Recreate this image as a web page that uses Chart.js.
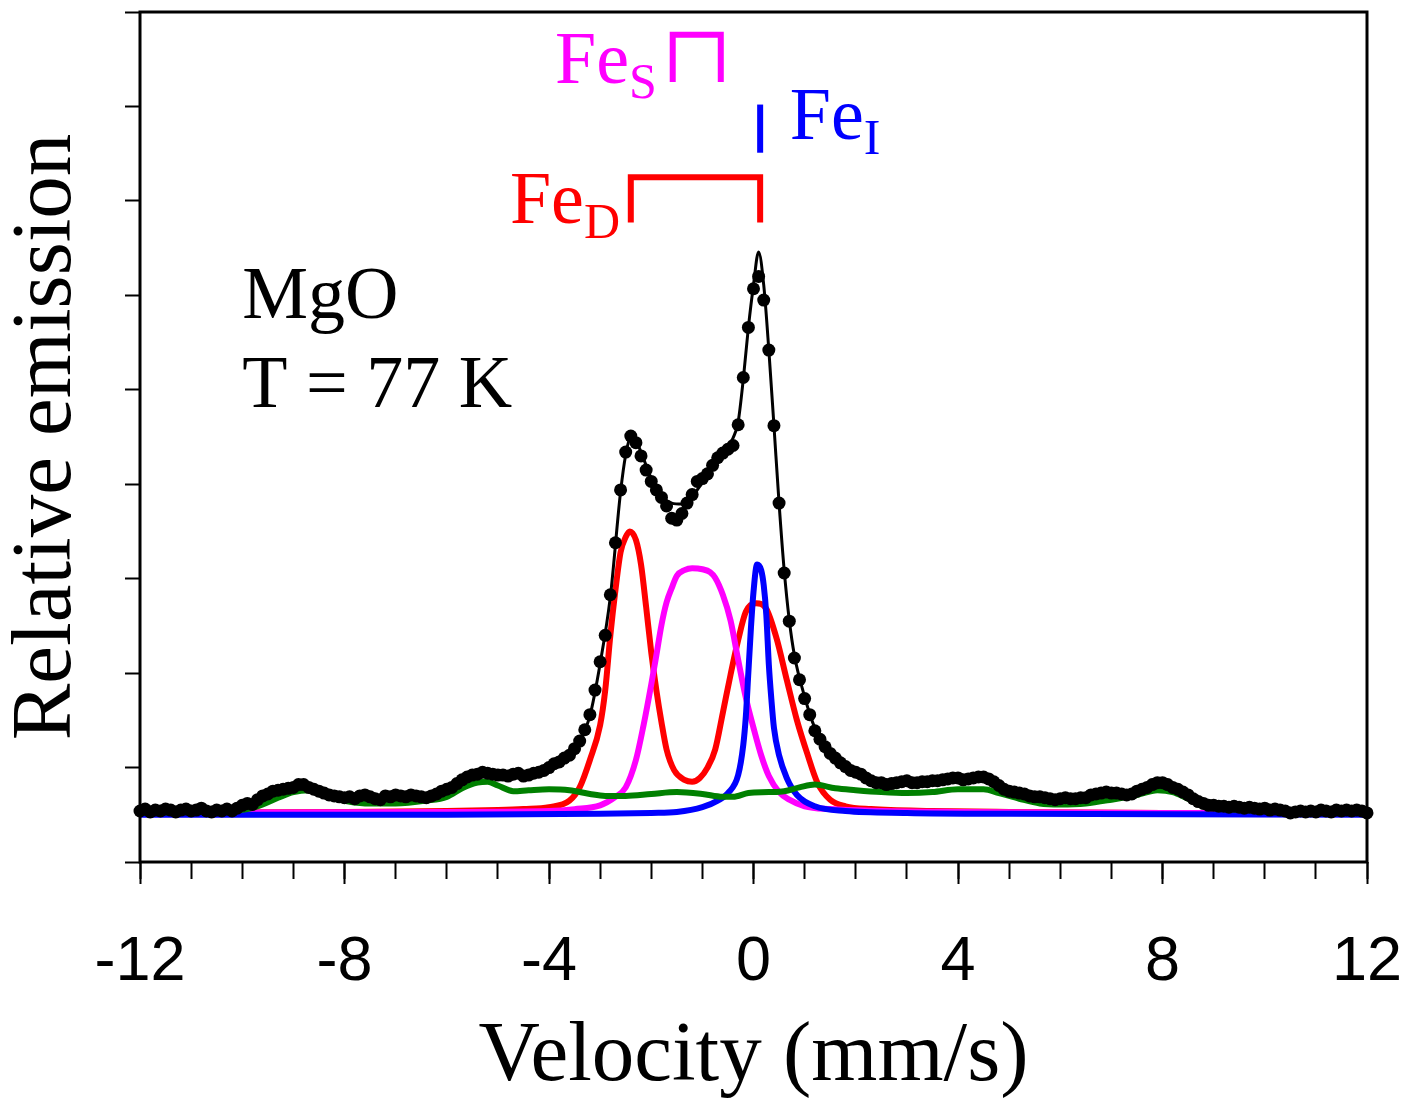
<!DOCTYPE html>
<html>
<head>
<meta charset="utf-8">
<script src="https://cdn.jsdelivr.net/npm/chart.js@4.4.1/dist/chart.umd.min.js"></script>
<style>
    html, body { margin: 0; padding: 0; background: #fff; }
</style>
</head>
<body>
<canvas id="graphique_mossbauer" width="1407" height="1101"></canvas>
<script>
// canaux de vitesse : -12 a 12 mm/s, tous les 0.1 mm/s
const v_debut = -12;
const v_pas = 0.1;
const emission_mesure = [
    0.54, 0.56, 0.53, 0.55, 0.54, 0.56, 0.55, 0.53, 0.55, 0.56, 0.54, 0.55, 0.57, 0.54, 0.53, 0.55, 0.54, 0.56, 0.54,
    0.57, 0.60, 0.62, 0.61, 0.66, 0.70, 0.72, 0.75, 0.76, 0.77, 0.78, 0.79, 0.82, 0.82, 0.79, 0.77, 0.75, 0.73, 0.71, 0.70,
    0.69, 0.68, 0.69, 0.67, 0.70, 0.71, 0.69, 0.67, 0.66, 0.70,
    0.69, 0.71, 0.70, 0.69, 0.71, 0.70, 0.69, 0.68, 0.70, 0.72, 0.75, 0.77,
    0.79, 0.83, 0.87, 0.90, 0.92, 0.93, 0.95, 0.94, 0.93, 0.92, 0.92, 0.91, 0.93, 0.94, 0.91, 0.92, 0.94, 0.95, 0.97, 1.00,
    1.04, 1.06, 1.10, 1.13, 1.20, 1.28, 1.40, 1.56, 1.82, 2.12, 2.40, 2.83, 3.38, 3.94, 4.34, 4.51, 4.44, 4.30, 4.15, 4.03,
    3.94, 3.86, 3.77, 3.64, 3.62, 3.69, 3.80, 3.89, 4.03, 4.06, 4.11, 4.20, 4.28, 4.33, 4.37, 4.41,
    4.63, 5.13, 5.66, 6.07, 6.20, 5.95, 5.42, 4.62, 3.80, 3.06, 2.55, 2.16, 1.93, 1.73, 1.56, 1.39, 1.30, 1.22, 1.15, 1.10, 1.05, 1.01,
    0.97, 0.95, 0.93, 0.89, 0.86, 0.84, 0.84, 0.82, 0.83, 0.84, 0.85, 0.86, 0.84, 0.84, 0.85, 0.85, 0.86, 0.86, 0.87, 0.88,
    0.89, 0.89, 0.87, 0.88, 0.89, 0.90, 0.90, 0.88, 0.85, 0.81, 0.77, 0.75, 0.74, 0.73, 0.72, 0.70, 0.69, 0.69, 0.68, 0.67,
    0.66, 0.67, 0.68, 0.67, 0.67, 0.68, 0.68,
    0.71, 0.72, 0.73, 0.74, 0.73, 0.73, 0.72, 0.71, 0.72, 0.75, 0.77, 0.79, 0.82, 0.84, 0.84, 0.82, 0.79, 0.77, 0.74, 0.71,
    0.67, 0.64, 0.62, 0.60, 0.60, 0.59, 0.59, 0.58, 0.59, 0.58, 0.57, 0.58, 0.57, 0.56, 0.57, 0.55, 0.56, 0.55, 0.54, 0.52,
    0.53, 0.54, 0.53, 0.54, 0.53, 0.55, 0.54, 0.53, 0.55, 0.54, 0.55, 0.54, 0.55, 0.54, 0.52
];

// ajustement total
const v_ajust = [-12, -11, -10, -9.5, -9, -8.5, -8, -7, -6.5, -6, -5.5, -5, -4.5, -4, -3.5, -3.2, -3.0, -2.8, -2.6, -2.5,
    -2.4, -2.3, -2.2, -2.0, -1.8, -1.6, -1.4, -1.3, -1.1, -0.9, -0.7, -0.5, -0.4, -0.3, -0.2, -0.1, 0.0, 0.1, 0.2, 0.3,
    0.4, 0.5, 0.6, 0.7, 0.8, 1.0, 1.2, 1.5, 2.0, 2.5, 3, 3.5, 4, 4.5, 5, 5.5, 6, 7, 7.5, 8, 8.5, 9, 10, 11, 12];
const emission_ajust = [0.54, 0.55, 0.58, 0.71, 0.79, 0.75, 0.69, 0.69, 0.69, 0.76, 0.90, 0.92, 0.92, 1.00, 1.19, 1.55, 2.10, 2.81, 3.92, 4.31,
    4.49, 4.46, 4.34, 4.06, 3.87, 3.80, 3.79, 3.79, 3.94, 4.10, 4.25, 4.39, 4.49, 4.66, 5.11, 5.66, 6.11, 6.46, 6.11, 5.42,
    4.62, 3.80, 3.09, 2.56, 2.19, 1.75, 1.42, 1.17, 0.96, 0.86, 0.84, 0.85, 0.87, 0.88, 0.76, 0.70, 0.67, 0.71, 0.75, 0.82, 0.71, 0.60, 0.57, 0.55, 0.54];

// Fe_D (doublet)
const v_fe_d = [-12, -8, -6, -5, -4.5, -4, -3.6, -3.4, -3.2, -3.0, -2.9, -2.8, -2.7, -2.6, -2.5, -2.42, -2.3, -2.2, -2.1, -2.0,
    -1.9, -1.8, -1.7, -1.55, -1.35, -1.2, -1.05, -0.9, -0.75, -0.6, -0.45, -0.3, -0.15, 0.05, 0.25, 0.45, 0.65, 0.85, 1.05, 1.25,
    1.5, 1.8, 2.3, 3.5, 5, 8, 12];
const emission_fe_d = [0.52, 0.53, 0.54, 0.55, 0.56, 0.58, 0.65, 0.79, 1.08, 1.45, 1.82, 2.40, 2.88, 3.28, 3.44, 3.50, 3.41, 3.15, 2.70, 2.22,
    1.82, 1.48, 1.19, 0.97, 0.87, 0.85, 0.89, 1.00, 1.19, 1.58, 1.98, 2.35, 2.65, 2.74, 2.68, 2.37, 1.93, 1.50, 1.15, 0.84,
    0.66, 0.59, 0.56, 0.54, 0.53, 0.52, 0.52];

// Fe_S
const v_fe_s = [-12, -6, -4, -3.5, -3.0, -2.7, -2.5, -2.3, -2.15, -2.0, -1.9, -1.8, -1.7, -1.6, -1.5, -1.35, -1.2, -1.0, -0.85, -0.75,
    -0.6, -0.45, -0.3, -0.15, 0.0, 0.15, 0.3, 0.5, 0.7, 1.0, 1.5, 2.5, 4, 8, 12];
const emission_fe_s = [0.52, 0.53, 0.54, 0.56, 0.60, 0.69, 0.79, 1.08, 1.45, 1.88, 2.19, 2.51, 2.75, 2.90, 3.03, 3.09, 3.11, 3.10, 3.07, 3.01,
    2.83, 2.56, 2.14, 1.74, 1.42, 1.13, 0.91, 0.74, 0.66, 0.59, 0.56, 0.54, 0.53, 0.52, 0.52];

// Fe_I
const v_fe_i = [-12, -6, -3, -2, -1.5, -1.0, -0.7, -0.5, -0.3, -0.2, -0.15, -0.1, -0.05, 0.0, 0.07, 0.15, 0.2, 0.25, 0.3, 0.35,
    0.4, 0.5, 0.65, 0.85, 1.2, 1.8, 3, 5, 12];
const emission_fe_i = [0.50, 0.50, 0.51, 0.52, 0.53, 0.58, 0.65, 0.73, 0.92, 1.24, 1.54, 2.01, 2.48, 2.86, 3.15, 3.09, 2.93, 2.62, 2.09, 1.72,
    1.42, 1.13, 0.89, 0.71, 0.59, 0.54, 0.52, 0.51, 0.50];

// composante large (vert)
const v_large = [-12, -11, -10.3, -9.9, -9.6, -9.3, -9.0, -8.7, -8.4, -8.1, -7.6, -7.0, -6.4, -6.0, -5.7, -5.4, -5.2, -5.0, -4.7, -4.4,
    -4.0, -3.6, -3.2, -2.9, -2.5, -2.0, -1.5, -1.0, -0.6, -0.4, -0.1, 0.3, 0.6, 0.9, 1.2, 1.6, 2.0, 2.5, 3.0, 3.5,
    4.0, 4.5, 4.8, 5.2, 5.6, 6.0, 6.5, 7.0, 7.5, 7.9, 8.2, 8.5, 8.8, 9.3, 10, 11, 12];
const emission_large = [0.52, 0.53, 0.54, 0.56, 0.61, 0.68, 0.74, 0.76, 0.71, 0.66, 0.62, 0.62, 0.65, 0.69, 0.78, 0.84, 0.85, 0.81, 0.75, 0.76,
    0.77, 0.76, 0.72, 0.70, 0.70, 0.72, 0.74, 0.72, 0.69, 0.69, 0.73, 0.74, 0.75, 0.79, 0.82, 0.78, 0.76, 0.74, 0.73, 0.74,
    0.77, 0.77, 0.73, 0.67, 0.62, 0.61, 0.62, 0.66, 0.71, 0.76, 0.74, 0.67, 0.60, 0.56, 0.54, 0.53, 0.52];

// reperes des sites : [x, y] en mm/s et en emission relative
const crochet_fe_d = [[-2.40, 6.77], [-2.40, 7.25], [0.13, 7.25], [0.13, 6.77]];
const crochet_fe_s = [[-1.58, 8.26], [-1.58, 8.76], [-0.64, 8.76], [-0.64, 8.26]];
const trait_fe_i = [[0.13, 7.51], [0.13, 8.02]];

const etiquettes = [
    { texte: 'Fe', indice: 'D', couleur: '#ff0000', x: -2.61, y: 6.77, align: 'right' },
    { texte: 'Fe', indice: 'S', couleur: '#ff00ff', x: -1.89, y: 8.25, align: 'right' },
    { texte: 'Fe', indice: 'I', couleur: '#0000ff', x: 0.71, y: 7.66, align: 'left' }
];
const notes = [
    { texte: 'MgO', x: -10.0, y: 5.76 },
    { texte: 'T = 77 K', x: -10.0, y: 4.82 }
];

function enPoints(vx, vy) {
    return vx.map((v, i) => ({ x: v, y: vy[i] }));
}

const points_mesure = emission_mesure.map((e, i) => ({ x: +(v_debut + i * v_pas).toFixed(1), y: e }));

function courbe(label, couleur, vx, vy, ordre) {
    return {
        label: label,
        data: enPoints(vx, vy),
        borderColor: couleur,
        borderWidth: 6,
        pointRadius: 0,
        fill: false,
        cubicInterpolationMode: 'monotone',
        order: ordre,
        xAxisID: 'x',
        yAxisID: 'y'
    };
}

function crochet(couleur, pts) {
    return {
        data: pts.map(p => ({ x: p[0], y: p[1] })),
        borderColor: couleur,
        borderWidth: 6,
        borderJoinStyle: 'miter',
        pointRadius: 0,
        tension: 0,
        fill: false,
        clip: false,
        order: 0,
        xAxisID: 'x',
        yAxisID: 'y'
    };
}

const serif = "'Liberation Serif', 'Times New Roman', serif";
const sans = "'Liberation Sans', Arial, sans-serif";

const cadre_et_textes = {
    id: 'cadre_et_textes',
    afterDatasetsDraw(chart) {
        const { ctx, chartArea: a, scales } = chart;
        const sx = scales.x, sy = scales.y;
        ctx.save();
        ctx.strokeStyle = '#000';
        ctx.lineWidth = 3;
        ctx.strokeRect(a.left, a.top, a.right - a.left, a.bottom - a.top);

        ctx.textBaseline = 'alphabetic';
        etiquettes.forEach(e => {
            const px = sx.getPixelForValue(e.x);
            const py = sy.getPixelForValue(e.y);
            ctx.fillStyle = e.couleur;
            ctx.font = '74px ' + serif;
            const l_texte = ctx.measureText(e.texte).width;
            ctx.font = '50px ' + serif;
            const l_indice = ctx.measureText(e.indice).width;
            const x0 = e.align === 'right' ? px - l_texte - l_indice : px;
            ctx.textAlign = 'left';
            ctx.font = '74px ' + serif;
            ctx.fillText(e.texte, x0, py);
            ctx.font = '50px ' + serif;
            ctx.fillText(e.indice, x0 + l_texte, py + 15);
        });

        ctx.fillStyle = '#000';
        ctx.font = '74px ' + serif;
        ctx.textAlign = 'left';
        notes.forEach(n => {
            ctx.fillText(n.texte, sx.getPixelForValue(n.x), sy.getPixelForValue(n.y));
        });
        ctx.restore();
    }
};

let graphique = new Chart(document.getElementById('graphique_mossbauer').getContext('2d'), {
    type: 'line',
    data: {
        datasets: [
            {
                label: 'Mesure',
                data: points_mesure,
                showLine: false,
                pointRadius: 6.5,
                pointBackgroundColor: '#000',
                pointBorderWidth: 0,
                clip: 8,
                order: 1,
                xAxisID: 'x',
                yAxisID: 'y'
            },
            {
                label: 'Ajustement',
                data: enPoints(v_ajust, emission_ajust),
                borderColor: '#000',
                borderWidth: 3,
                pointRadius: 0,
                fill: false,
                cubicInterpolationMode: 'monotone',
                order: 2,
                xAxisID: 'x',
                yAxisID: 'y'
            },
            courbe('Large', '#008000', v_large, emission_large, 3),
            courbe('Fe I', '#0000ff', v_fe_i, emission_fe_i, 4),
            courbe('Fe S', '#ff00ff', v_fe_s, emission_fe_s, 5),
            courbe('Fe D', '#ff0000', v_fe_d, emission_fe_d, 6),
            crochet('#ff0000', crochet_fe_d),
            crochet('#ff00ff', crochet_fe_s),
            crochet('#0000ff', trait_fe_i)
        ]
    },
    options: {
        responsive: false,
        animation: false,
        devicePixelRatio: 1,
        layout: { padding: { top: 12, right: 40, bottom: 0, left: 0 } },
        plugins: {
            legend: { display: false },
            tooltip: { enabled: false }
        },
        scales: {
            xMineur: {
                type: 'linear',
                position: 'bottom',
                weight: -1,
                min: -12,
                max: 12,
                ticks: { stepSize: 1, display: false },
                grid: { drawOnChartArea: false, tickLength: 17, tickColor: '#000', tickWidth: 2 },
                border: { display: false },
                afterFit: function (s) { s.height = 0; s.paddingLeft = 0; s.paddingRight = 0; }
            },
            x: {
                type: 'linear',
                position: 'bottom',
                min: -12,
                max: 12,
                ticks: {
                    stepSize: 4,
                    color: '#000',
                    padding: 47,
                    maxRotation: 0,
                    autoSkip: false,
                    font: { family: sans, size: 63, lineHeight: 1 },
                    callback: v => String(v)
                },
                grid: { drawOnChartArea: false, tickLength: 22, tickColor: '#000', tickWidth: 2 },
                border: { display: false },
                title: {
                    display: true,
                    text: 'Velocity (mm/s)',
                    color: '#000',
                    font: { family: serif, size: 85, lineHeight: 1 },
                    padding: { top: 0, bottom: 1 }
                },
                afterFit: function (s) { s.height = 239; s.paddingLeft = 0; s.paddingRight = 0; }
            },
            y: {
                type: 'linear',
                min: 0,
                max: 9,
                ticks: { stepSize: 1, display: false },
                grid: { drawOnChartArea: false, tickLength: 15, tickColor: '#000', tickWidth: 2 },
                border: { display: false },
                title: {
                    display: true,
                    text: 'Relative emission',
                    color: '#000',
                    font: { family: serif, size: 85, lineHeight: 1 },
                    padding: { top: 5, bottom: 0 }
                },
                afterFit: function (s) { s.width = 140; s.paddingTop = 0; s.paddingBottom = 0; }
            }
        }
    },
    plugins: [cadre_et_textes]
});
</script>
</body>
</html>
